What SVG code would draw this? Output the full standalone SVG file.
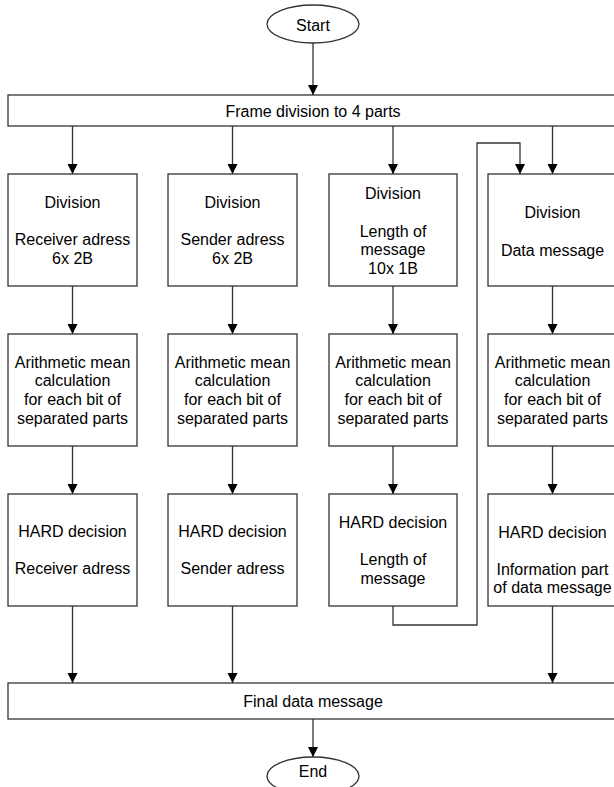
<svg xmlns="http://www.w3.org/2000/svg" width="614" height="787" viewBox="0 0 614 787">
<defs>
<marker id="ah" viewBox="0 0 10 14" refX="10" refY="7" markerWidth="10" markerHeight="14" markerUnits="userSpaceOnUse" orient="auto">
<path d="M0,2 L10,7 L0,12 Z" fill="#000"/>
</marker>
<style>
.b{fill:#fff;stroke:#333;stroke-width:1.3}
.t{font-family:"Liberation Sans",Arial,sans-serif;font-size:16px;fill:#000;text-anchor:middle}
.c{fill:none;stroke:#333;stroke-width:1.3;marker-end:url(#ah)}
</style>
</defs>
<rect width="614" height="787" fill="#fff"/>
<g id="connectors">
<path class="c" d="M313,43V95"/>
<path class="c" d="M72.5,126V174"/>
<path class="c" d="M232.5,126V174"/>
<path class="c" d="M393,126V174"/>
<path class="c" d="M552.5,126V174"/>
<path class="c" d="M72.5,286V334"/>
<path class="c" d="M232.5,286V334"/>
<path class="c" d="M393,286V334"/>
<path class="c" d="M552.5,286V334"/>
<path class="c" d="M72.5,446V494"/>
<path class="c" d="M232.5,446V494"/>
<path class="c" d="M393,446V494"/>
<path class="c" d="M552.5,446V494"/>
<path class="c" d="M72.5,606V683"/>
<path class="c" d="M232.5,606V683"/>
<path class="c" d="M552.5,606V683"/>
<path class="c" d="M393,606V625H477V143H520V174"/>
<path class="c" d="M313,719V757"/>
</g>
<g id="start"><ellipse class="b" cx="313" cy="24" rx="46" ry="19"/><text class="t" x="313" y="31">Start</text></g>
<g id="frame"><rect class="b" x="8" y="95" width="610" height="31"/><text class="t" x="313" y="116.5">Frame division to 4 parts</text></g>
<g id="div1"><rect class="b" x="8" y="174" width="129" height="112"/>
<text class="t" x="72.5" y="207.5">Division</text><text class="t" x="72.5" y="244.5">Receiver adress</text><text class="t" x="72.5" y="263.5">6x 2B</text></g>
<g id="div2"><rect class="b" x="168" y="174" width="129" height="112"/>
<text class="t" x="232.5" y="207.5">Division</text><text class="t" x="232.5" y="244.5">Sender adress</text><text class="t" x="232.5" y="263.5">6x 2B</text></g>
<g id="div3"><rect class="b" x="329" y="174" width="128" height="112"/>
<text class="t" x="393" y="198.5">Division</text><text class="t" x="393" y="236.5">Length of</text><text class="t" x="393" y="255">message</text><text class="t" x="393" y="273.5">10x 1B</text></g>
<g id="div4"><rect class="b" x="488" y="174" width="130" height="112"/>
<text class="t" x="552.5" y="217.5">Division</text><text class="t" x="552.5" y="255.5">Data message</text></g>
<g id="mean1"><rect class="b" x="8" y="334" width="129" height="112"/>
<text class="t" x="72.5" y="367.5">Arithmetic mean</text><text class="t" x="72.5" y="386">calculation</text><text class="t" x="72.5" y="404.5">for each bit of</text><text class="t" x="72.5" y="423.5">separated parts</text></g>
<g id="mean2"><rect class="b" x="168" y="334" width="129" height="112"/>
<text class="t" x="232.5" y="367.5">Arithmetic mean</text><text class="t" x="232.5" y="386">calculation</text><text class="t" x="232.5" y="404.5">for each bit of</text><text class="t" x="232.5" y="423.5">separated parts</text></g>
<g id="mean3"><rect class="b" x="329" y="334" width="128" height="112"/>
<text class="t" x="393" y="367.5">Arithmetic mean</text><text class="t" x="393" y="386">calculation</text><text class="t" x="393" y="404.5">for each bit of</text><text class="t" x="393" y="423.5">separated parts</text></g>
<g id="mean4"><rect class="b" x="488" y="334" width="130" height="112"/>
<text class="t" x="552.5" y="367.5">Arithmetic mean</text><text class="t" x="552.5" y="386">calculation</text><text class="t" x="552.5" y="404.5">for each bit of</text><text class="t" x="552.5" y="423.5">separated parts</text></g>
<g id="hard1"><rect class="b" x="8" y="494" width="129" height="112"/>
<text class="t" x="72.5" y="536.5">HARD decision</text><text class="t" x="72.5" y="573.5">Receiver adress</text></g>
<g id="hard2"><rect class="b" x="168" y="494" width="129" height="112"/>
<text class="t" x="232.5" y="536.5">HARD decision</text><text class="t" x="232.5" y="573.5">Sender adress</text></g>
<g id="hard3"><rect class="b" x="329" y="494" width="128" height="112"/>
<text class="t" x="393" y="527.5">HARD decision</text><text class="t" x="393" y="564.5">Length of</text><text class="t" x="393" y="583.5">message</text></g>
<g id="hard4"><rect class="b" x="488" y="494" width="130" height="112"/>
<text class="t" x="552.5" y="537.5">HARD decision</text><text class="t" x="552.5" y="574.5">Information part</text><text class="t" x="552.5" y="593">of data message</text></g>
<g id="final"><rect class="b" x="8" y="683" width="610" height="36"/><text class="t" x="313" y="706.5">Final data message</text></g>
<g id="end"><ellipse class="b" cx="313" cy="776" rx="46" ry="19"/><text class="t" x="313" y="776.5">End</text></g>
</svg>
